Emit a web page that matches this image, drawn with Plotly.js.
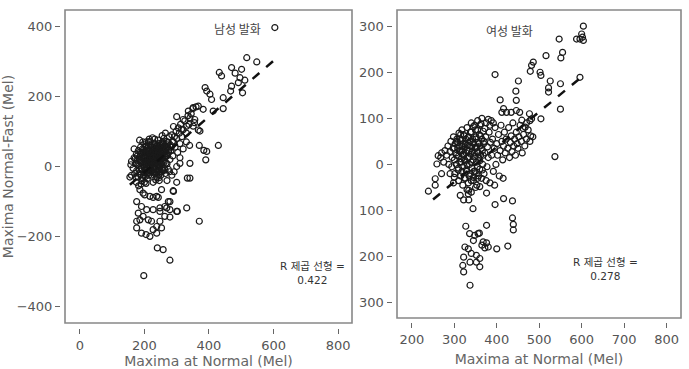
<!DOCTYPE html>
<html>
<head>
<meta charset="utf-8">
<script src="https://cdn.plot.ly/plotly-3.0.1.min.js"></script>
<style>html,body{margin:0;padding:0;background:#fff;}#chart{width:689px;height:369px;}</style>
</head>
<body>
<div id="chart"></div>
<script>
// ---- Data ----
const panelTitles = ["남성 발화", "여성 발화"];
const rSquared = ["0.422", "0.278"];
const xTitle = "Maxima at Normal (Mel)";
const yTitle = "Maxima Normal-Fast (Mel)";

const maleTickVals = [-400, -200, 0, 200, 400];
const maleXTicks = [0, 200, 400, 600, 800];
const femaleTickVals = [-300, -200, -100, 0, 100, 200, 300];
const femaleTickText = ["300", "200", "100", "0", "100", "200", "300"];
const femaleXTicks = [200, 300, 400, 500, 600, 700, 800];

// male speech: [Maxima at Normal, Maxima Normal-Fast]
const malePoints = [
 [604,396],[517,310],[548,298],[470,282],[501,277],[432,268],[439,258],[481,266],[496,253],[491,239],
 [470,229],[467,215],[504,210],[388,225],[393,215],[403,206],[408,191],[444,196],[444,165],[413,158],
 [367,172],[351,168],[336,158],[382,163],[341,139],[320,134],[356,134],[351,115],[331,115],[372,101],
 [315,106],[511,246],[300,142],[290,114],[367,104],
 [429,60],[370,60],[384,46],[393,43],[390,19],[341,9],[310,9],[341,-33],[333,-33],[300,-45],[290,-71],
 [302,-128],[331,-118],[274,-100],[279,-100],[370,-156],[240,-232],[258,-237],[279,-267],[198,-311],
 [186,-66],[196,-76],[201,-81],[217,-85],[238,-85],[176,-100],[191,-114],[207,-123],[227,-123],[248,-118],
 [263,-114],[181,-133],[196,-142],[212,-152],[186,-152],[176,-156],[222,-156],[248,-156],[238,-171],[253,-175],
 [176,-175],[227,-180],[205,-194],[217,-199],[191,-190],[238,-190],[263,-142],[248,-128],[279,-123],
 [253,-66],[289,-69],[227,-88],[243,-88],[269,-118],[300,-128],[279,-144],
 [160,15],[165,-5],[168,25],[170,-20],[172,8],[175,35],[176,-12],[178,18],[180,-30],[181,45],
 [183,2],[185,-8],[186,28],[188,55],[189,-22],[190,12],[192,38],[193,-40],[195,5],[196,22],
 [197,-15],[198,48],[199,30],[200,-3],[201,62],[202,15],[203,-28],[204,40],[205,8],[206,-10],
 [207,25],[208,52],[209,-35],[210,18],[211,0],[212,35],[213,70],[214,-18],[215,12],[216,44],
 [217,-5],[218,28],[219,60],[220,-25],[221,20],[222,5],[223,38],[224,-12],[225,55],[226,15],
 [227,-45],[228,30],[229,0],[230,47],[231,22],[232,-20],[233,65],[234,10],[235,35],[236,-8],
 [237,52],[238,18],[239,-30],[240,42],[241,3],[242,28],[243,75],[244,-15],[245,50],[246,12],
 [247,35],[248,-2],[249,60],[250,22],[251,-25],[252,45],[253,8],[254,68],[255,30],[256,-10],
 [257,55],[258,15],[259,40],[260,80],[261,-5],[262,25],[263,58],[264,35],[265,-20],[266,48],
 [267,10],[268,72],[270,30],[272,55],[274,-8],[275,40],[277,85],[279,20],[280,62],[282,45],
 [285,90],[288,30],[290,70],[292,-15],[295,55],[298,100],[300,80],[303,40],[305,110],[308,95],
 [310,65],[312,120],[316,85],[320,105],[325,130],[330,95],[335,145],[338,120],[345,150],[350,165],
 [355,125],[360,170],[175,-45],[182,-55],[190,-50],[200,-45],[185,75],[195,70],[205,-48],[215,78],
 [225,82],[235,-38],[245,-32],[255,88],[265,95],[160,-25],[155,-30],[168,50],[158,5],[300,0],
 [310,25],[285,-25],[270,-40],[320,50],[330,70],[340,60],
 [203,5],[207,32],[211,45],[214,20],[218,-2],[221,42],[224,28],[227,10],[229,55],[232,35],
 [236,20],[239,5],[242,48],[245,30],[248,15],[251,38],[204,18],[208,-5],[212,58],[216,32],
 [220,8],[226,48],[230,-5],[234,25],[238,58],[244,2],[249,45],[253,25],[258,-12],[262,48],
 [213,-25],[219,30],[228,-15],[241,15],[252,-15],[196,40],[199,12],[202,-18],[246,65],[256,45],
 [185,20],[188,35],[190,-5],[192,15],[194,50],[197,-25],[199,42],[201,25],[203,-8],[205,58],
 [207,12],[209,38],[210,-18],[212,22],[214,48],[216,-12],[217,18],[219,40],[221,-15],[223,55],
 [225,25],[226,-3],[228,42],[230,15],[231,62],[233,-10],[235,48],[237,28],[238,-18],[240,60],
 [242,10],[243,38],[245,-22],[247,52],[248,28],[250,5],[252,62],[254,40],[255,-5],[257,25],
 [259,65],[261,12],[263,42],[264,-10],[266,28],[268,50],[270,8],[272,35],[274,68],[276,48],
 [278,-15],[180,5],[183,-20],[187,40],[178,30],[175,10],[173,-30],[171,22],[194,-32],[206,70],
 [218,72],[232,78],[246,-40],[258,70],[270,62],[283,55],[287,72],[293,85]
];

// female speech: [Maxima at Normal, Maxima Normal-Fast]
const femalePoints = [
 [604,300],[600,283],[602,276],[596,272],[588,272],[604,269],[547,272],[555,243],[551,231],[516,236],
 [486,222],[482,215],[479,202],[502,200],[504,193],[396,195],[451,181],[526,181],[522,166],[522,157],
 [550,175],[596,189],[445,159],[446,139],[408,140],[550,120],[416,121],[423,113],[434,113],[446,117],
 [454,113],[412,113],[477,110],[504,99],[478,95],[537,17],
 [239,-58],[255,-31],[270,-20],[255,-45],[259,1],[262,19],[290,-20],
 [314,-67],[322,-77],[334,-77],[334,-56],[344,-96],[376,-62],[396,-87],[416,-74],[437,-79],
 [437,-116],[439,-130],[439,-142],[327,-134],[376,-132],[336,-150],[348,-154],[356,-150],[345,-165],[333,-183],
 [325,-179],[340,-193],[352,-197],[360,-204],[352,-212],[360,-222],[337,-212],[322,-201],[320,-219],[322,-233],
 [337,-262],[365,-175],[372,-181],[380,-179],[376,-170],[368,-168],[400,-183],[426,-177],[333,-64],[359,-149],
 [268,15],[270,25],[275,5],[278,30],[282,20],[285,40],[287,0],
 [290,28],[292,50],[294,-5],[295,15],[297,35],[298,60],[300,10],[301,-20],[302,45],[304,25],
 [305,0],[306,55],[308,35],[309,-12],[310,18],[311,68],[312,40],[313,5],[314,28],[315,-25],
 [316,52],[317,12],[318,75],[319,30],[320,-5],[321,45],[322,20],[323,62],[324,-30],[325,38],
 [326,8],[327,55],[328,25],[329,-15],[330,80],[331,42],[332,15],[333,-40],[334,60],[335,30],
 [336,0],[337,50],[338,-20],[339,22],[340,70],[341,38],[342,-8],[343,55],[344,10],[345,-35],
 [346,45],[347,25],[348,85],[349,-15],[350,35],[351,60],[352,5],[353,-45],[354,28],[355,75],
 [356,48],[357,-25],[358,15],[359,65],[360,-10],[361,40],[362,20],[363,88],[364,-30],[365,55],
 [366,30],[367,0],[368,72],[369,45],[370,-20],[372,25],[374,60],[375,90],[377,-5],[378,38],
 [380,15],[382,70],[384,-40],[385,48],[387,95],[388,20],[390,55],[392,-15],[394,35],[396,80],
 [398,0],[400,45],[402,20],[404,65],[406,-25],[408,30],[410,85],[412,50],[414,10],[416,40],
 [418,70],[420,25],[422,55],[426,35],[428,80],[430,15],[432,48],[434,62],[436,28],
 [438,90],[440,40],[442,55],[444,20],[446,70],[448,45],[450,35],[452,60],[455,85],[458,50],
 [460,25],[463,65],[466,40],[470,55],[474,75],[478,50],[482,99],[485,60],[467,81],[459,96],
 [470,90],[462,78],[480,62],[345,82],[355,95],[330,-55],[340,-60],[350,-50],[360,-48],
 [320,-45],[310,-35],[300,-28],[375,-35],[395,-45],[415,-30],[365,100],[380,98],[298,-40],
 [305,20],[308,48],[310,-8],[312,30],[314,55],[316,5],[318,40],[320,22],[322,65],[324,10],
 [326,45],[328,-12],[330,30],[332,58],[334,15],[336,40],[338,70],[340,5],[342,28],[344,48],
 [346,-15],[348,18],[350,55],[352,38],[354,-5],[356,25],[358,45],[360,8],[362,62],[364,35],
 [366,-12],[368,20],[370,50],[335,-25],[345,-28],[355,-30],[352,-20],[340,-35],[330,0],[318,-15],
 [326,-30],[360,85],[372,78],[384,85],[392,90],[350,75],[340,90],[315,65],[305,50],[300,35]
];

// linear fit lines (end points)
const maleFitX = [155, 601];
const maleFitY = [-52, 302];
const femaleFitX = [250, 600];
const femaleFitY = [-76, 190];

// ---- Build chart ----
const FONT = "DejaVu Sans, Noto Sans CJK KR, sans-serif";
const marker = {symbol: "circle-open", size: 6, color: "#1a1a1a", line: {width: 1.2}};

const traces = [
  {type: "scatter", mode: "markers", x: malePoints.map(p => p[0]), y: malePoints.map(p => p[1]),
   xaxis: "x", yaxis: "y", marker: marker, hoverinfo: "skip"},
  {type: "scatter", mode: "lines", x: maleFitX, y: maleFitY, xaxis: "x", yaxis: "y",
   line: {color: "#111", width: 2.5, dash: "dash"}, hoverinfo: "skip"},
  {type: "scatter", mode: "markers", x: femalePoints.map(p => p[0]), y: femalePoints.map(p => p[1]),
   xaxis: "x2", yaxis: "y2", marker: marker, hoverinfo: "skip"},
  {type: "scatter", mode: "lines", x: femaleFitX, y: femaleFitY, xaxis: "x2", yaxis: "y2",
   line: {color: "#111", width: 2.5, dash: "dash"}, hoverinfo: "skip"}
];

const W = 689, H = 369;
const px = v => v / W;
const py = v => (H - v) / H;

const tickFont = {family: FONT, size: 13, color: "#555"};
const titleFont = {family: FONT, size: 14, color: "#666"};
const axisCommon = {showgrid: false, zeroline: false, showline: false, ticks: "outside",
  ticklen: 5, tickwidth: 1, tickcolor: "#666", tickfont: tickFont, fixedrange: true};

const leftBox = {x0: px(65), x1: px(352), y0: py(323), y1: py(10)};
const rightBox = {x0: px(397), x1: px(681), y0: py(318), y1: py(10)};

const layout = {
  width: W, height: H,
  margin: {l: 0, r: 0, t: 0, b: 0},
  paper_bgcolor: "#fff", plot_bgcolor: "#fff",
  showlegend: false,
  font: {family: FONT},
  xaxis: Object.assign({}, axisCommon, {
    domain: [leftBox.x0, leftBox.x1], range: [-46, 843], anchor: "free", position: py(328),
    tickmode: "array", tickvals: maleXTicks,
    title: {text: xTitle, font: titleFont, standoff: 6}
  }),
  yaxis: Object.assign({}, axisCommon, {
    domain: [leftBox.y0, leftBox.y1], range: [-446, 446], anchor: "free", position: px(60),
    tickmode: "array", tickvals: maleTickVals,
    title: {text: yTitle, font: titleFont, standoff: 3}
  }),
  xaxis2: Object.assign({}, axisCommon, {
    domain: [rightBox.x0, rightBox.x1], range: [165, 834], anchor: "free", position: py(322),
    tickmode: "array", tickvals: femaleXTicks,
    title: {text: xTitle, font: titleFont, standoff: 8}
  }),
  yaxis2: Object.assign({}, axisCommon, {
    domain: [rightBox.y0, rightBox.y1], range: [-333, 335], anchor: "free", position: px(391.5),
    tickmode: "array", tickvals: femaleTickVals, ticktext: femaleTickText
  }),
  shapes: [
    Object.assign({type: "rect", xref: "paper", yref: "paper", line: {color: "#888", width: 1.6}}, leftBox),
    Object.assign({type: "rect", xref: "paper", yref: "paper", line: {color: "#888", width: 1.6}}, rightBox)
  ],
  annotations: [
    {xref: "paper", yref: "paper", x: px(212), y: py(18), text: panelTitles[0], showarrow: false,
     font: {family: "Noto Sans CJK KR", size: 12, color: "#444"}},
    {xref: "paper", yref: "paper", x: px(535), y: py(20), text: panelTitles[1], showarrow: false,
     font: {family: "Noto Sans CJK KR", size: 12, color: "#444"}},
    {xref: "paper", yref: "paper", x: px(312), y: py(288), text: "R 제곱 선형 =<br>" + rSquared[0],
     showarrow: false, align: "center", font: {family: FONT, size: 10.5, color: "#333"}},
    {xref: "paper", yref: "paper", x: px(640), y: py(284), text: "R 제곱 선형 =<br>" + rSquared[1],
     showarrow: false, align: "center", font: {family: FONT, size: 10.5, color: "#333"}}
  ]
};

Plotly.newPlot("chart", traces, layout, {displayModeBar: false, staticPlot: true});
</script>
</body>
</html>
